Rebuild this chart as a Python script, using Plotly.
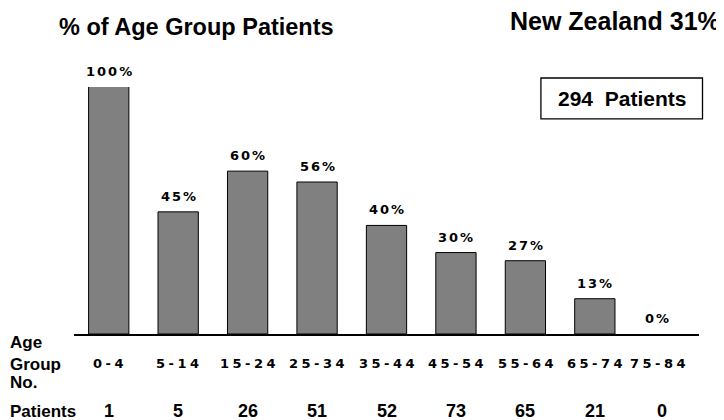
import plotly.graph_objects as go

age_groups = ["0-4", "5-14", "15-24", "25-34", "35-44", "45-54", "55-64", "65-74", "75-84"]
percent = [100, 45, 60, 56, 40, 30, 27, 13, 0]
patients = [1, 5, 26, 51, 52, 73, 65, 21, 0]
title_text = "% of Age Group Patients"
country_text = "New Zealand 31%"
total_text = "294  Patients"

Y_MAX = 91
FONT = "Liberation Sans, Arial, sans-serif"
WIDE = "DejaVu Sans, Verdana, sans-serif"
# page offset of the figure (browser body margin)
OFF = 8
L, R, T, B = 74.3 - OFF, 25, 87 - OFF, 412 - (334.5 - OFF)
PW = 716 - L - R
PH = 412 - T - B

def px_x(page_x):
    return (page_x - OFF - L) / PW

def px_y(page_y):
    return (412 - B - (page_y - OFF)) / PH

def spaced(t, sp, size):
    return (f'<span style="letter-spacing:{sp}px;font-size:{size}px;font-weight:bold">'
            f'{t}</span>')

fig = go.Figure()
fig.add_trace(go.Bar(
    x=age_groups, y=percent,
    marker=dict(color="#808080",
                line=dict(color="#000000", width=[1 if v > 0 else 0 for v in percent])),
    hoverinfo="skip",
))

LAB_SP, CAT_SP = 2, 3.5
ann = []
last = len(age_groups) - 1
for i, (g, v, n) in enumerate(zip(age_groups, percent, patients)):
    nudge = -7 if i == last else 0
    ann.append(dict(x=g, y=min(v, Y_MAX), xref="x", yref="y", text=spaced(f"{v}%", LAB_SP, 13),
                    showarrow=False, yanchor="bottom", yshift=6, xshift=LAB_SP / 2 + nudge,
                    font=dict(family=WIDE, size=13, color="#000")))
    ann.append(dict(x=g, y=0, xref="x", yref="paper", text=spaced(g, CAT_SP, 13), showarrow=False,
                    yanchor="middle", yshift=-29.5, xshift=CAT_SP / 2 + nudge,
                    font=dict(family=WIDE, size=13, color="#000")))
    ann.append(dict(x=g, y=0, xref="x", yref="paper", text=f"<b>{n}</b>", showarrow=False,
                    yanchor="middle", yshift=-77, xshift=-2 if i == last else 0,
                    font=dict(family=FONT, size=18, color="#000")))

side = [("Age", -8), ("Group", -30), ("No.", -48.5), ("Patients", -77)]
for t, s in side:
    ann.append(dict(x=0, y=0, xref="paper", yref="paper", text=f"<b>{t}</b>", showarrow=False,
                    xanchor="left", yanchor="middle", xshift=-L, yshift=s,
                    font=dict(family=FONT, size=17, color="#000")))

ann.append(dict(x=px_x(196.7), y=1, xref="paper", yref="paper", text=f"<b>{title_text}</b>",
                showarrow=False, xanchor="center", yanchor="middle", yshift=60,
                font=dict(family=FONT, size=23.5, color="#000")))
ann.append(dict(x=px_x(721.5), y=1, xref="paper", yref="paper", text=f"<b>{country_text}</b>",
                showarrow=False, xanchor="right", yanchor="middle", yshift=66.5,
                font=dict(family=FONT, size=25, color="#000")))
ann.append(dict(x=px_x(622), y=px_y(98.5), xref="paper", yref="paper", text=f"<b>{total_text}</b>",
                showarrow=False, xanchor="center", yanchor="middle",
                font=dict(family=FONT, size=21, color="#000")))

fig.add_shape(type="rect", xref="paper", yref="paper",
              x0=px_x(541), x1=px_x(702.5),
              y0=px_y(119), y1=px_y(78),
              line=dict(color="#000", width=1.3), fillcolor="rgba(0,0,0,0)")

fig.update_layout(
    width=716, height=412,
    margin=dict(l=L, r=R, t=T, b=B),
    paper_bgcolor="white", plot_bgcolor="white",
    showlegend=False, bargap=0.42,
    annotations=ann,
    font=dict(family=FONT),
)
fig.update_xaxes(showticklabels=False, showgrid=False, zeroline=False,
                 showline=True, linecolor="#000", linewidth=1.5, ticks="")
fig.update_yaxes(range=[0, Y_MAX], visible=False, showgrid=False, zeroline=False)

fig.write_html("out.html")
